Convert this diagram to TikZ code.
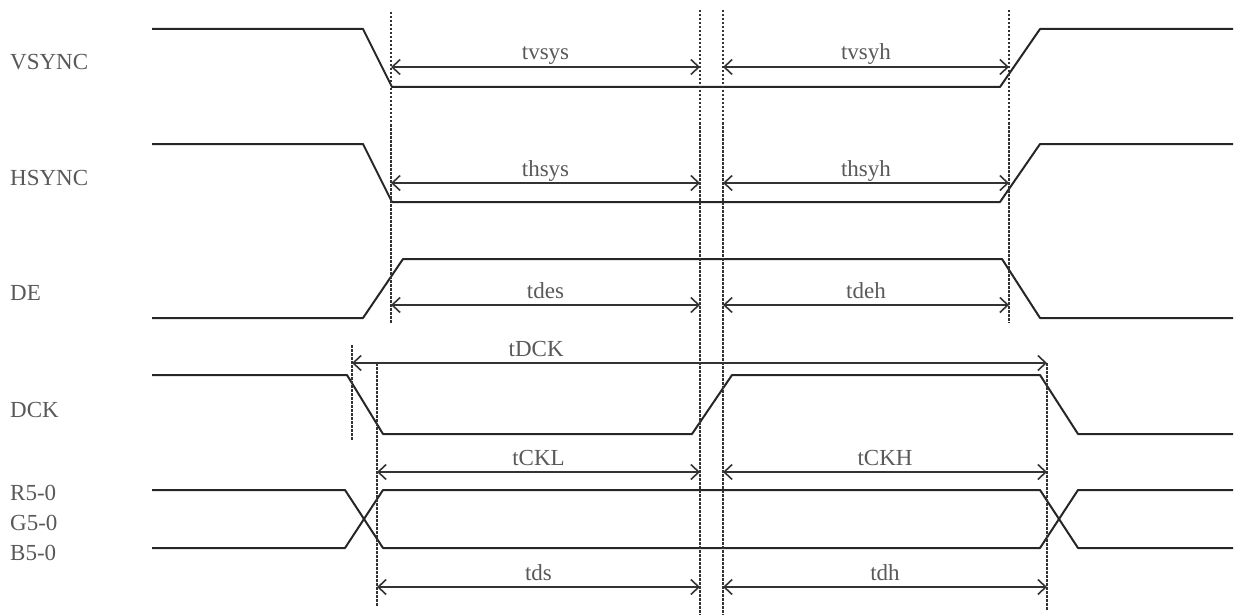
\documentclass[tikz,border=0pt]{standalone}
\usepackage{fontspec}
\setmainfont{Liberation Serif}
\usetikzlibrary{arrows.meta}

\tikzset{
  wave/.style={line width=2pt,black!85,line join=round},
  guide/.style={line width=1.2pt,black!80,dash pattern=on 2.5pt off 1.5pt},
  span/.style={{Straight Barb[length=8pt,width=15pt]}-{Straight Barb[length=8pt,width=15pt]},line width=1.6pt,black!80},
  sig/.style={font=\fontsize{23}{23}\selectfont,text=black!65,inner sep=0pt,anchor=base west},
  tlabel/.style={font=\fontsize{23}{23}\selectfont,text=black!65,inner sep=0pt,anchor=base,yshift=7pt}
}

\begin{document}
\begin{tikzpicture}[x=1pt,y=-1pt]
\useasboundingbox (0,0) rectangle (1241,615);

% signal names
\node[sig] (nVS) at (10,70) {VSYNC};
\node[sig] (nHS) at (10,185) {HSYNC};
\node[sig] (nDE) at (10,300) {DE};
\node[sig] (nDCK) at (10,417) {DCK};
\node[sig] (nR) at (10,500) {R5-0};
\node[sig] (nG) at (10,530) {G5-0};
\node[sig] (nB) at (10,560) {B5-0};

% waveforms
\draw[wave] (152,29) -- (363,29) -- (392,87) -- (1000,87) -- (1040,29) -- (1233,29);
\draw[wave] (152,144) -- (363,144) -- (392,202) -- (1000,202) -- (1040,144) -- (1233,144);
\draw[wave] (152,318) -- (363,318) -- (403,259) -- (1002,259) -- (1040,318) -- (1233,318);
\draw[wave] (152,375) -- (347,375) -- (383,434) -- (692,434) -- (732,375) -- (1040,375) -- (1078,434) -- (1233,434);
\draw[wave] (152,490) -- (345,490) -- (383,548) -- (1040,548) -- (1078,490) -- (1233,490);
\draw[wave] (152,548) -- (345,548) -- (383,490) -- (1040,490) -- (1078,548) -- (1233,548);

% timing guides
\draw[guide] (391,12) coordinate (gA) -- (391,323);
\draw[guide] (700,10) coordinate (gB) -- (700,615);
\draw[guide] (723,10) coordinate (gC) -- (723,615);
\draw[guide] (1009,10) coordinate (gD) -- (1009,323);
\draw[guide] (352,345) coordinate (gE) -- (352,440);
\draw[guide] (377,363) coordinate (gF) -- (377,607);
\draw[guide] (1047,363) coordinate (gG) -- (1047,610);

% rows of the spans
\coordinate (rVS) at (0,67);
\coordinate (rHS) at (0,183);
\coordinate (rDE) at (0,305);
\coordinate (rDCK) at (0,363);
\coordinate (rCK) at (0,472);
\coordinate (rD) at (0,587);

\draw[span] (gA |- rVS) -- node[tlabel] (tvsys) {tvsys} (gB |- rVS);
\draw[span] (gC |- rVS) -- node[tlabel] (tvsyh) {tvsyh} (gD |- rVS);
\draw[span] (gA |- rHS) -- node[tlabel] (thsys) {thsys} (gB |- rHS);
\draw[span] (gC |- rHS) -- node[tlabel] (thsyh) {thsyh} (gD |- rHS);
\draw[span] (gA |- rDE) -- node[tlabel] (tdes) {tdes} (gB |- rDE);
\draw[span] (gC |- rDE) -- node[tlabel] (tdeh) {tdeh} (gD |- rDE);
\draw[span] (gE |- rDCK) -- node[tlabel,pos=0.265] (tDCK) {tDCK} (gG |- rDCK);
\draw[span] (gF |- rCK) -- node[tlabel] (tCKL) {tCKL} (gB |- rCK);
\draw[span] (gC |- rCK) -- node[tlabel] (tCKH) {tCKH} (gG |- rCK);
\draw[span] (gF |- rD) -- node[tlabel] (tds) {tds} (gB |- rD);
\draw[span] (gC |- rD) -- node[tlabel] (tdh) {tdh} (gG |- rD);
\end{tikzpicture}
\end{document}
